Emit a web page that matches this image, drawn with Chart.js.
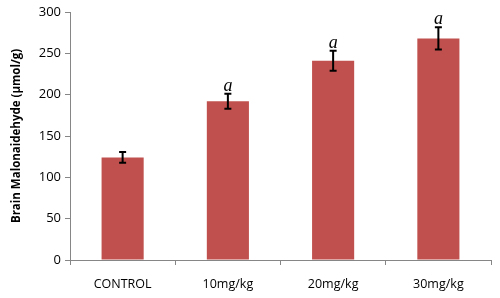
<!DOCTYPE html>
<html>
<head>
<meta charset="utf-8">
<script src="https://cdn.jsdelivr.net/npm/chart.js"></script>
<style>
  html, body { margin: 0; padding: 0; background: #fff; }
  #wrap { width: 500px; height: 298px; }
</style>
</head>
<body>
<div id="wrap"><canvas id="myChart" width="500" height="298"></canvas></div>
<script>
// chart data
const categories = ['CONTROL', '10mg/kg', '20mg/kg', '30mg/kg'];
const mdaValues = [124, 192, 241, 268];
const mdaErrors = [6.5, 9, 12, 13.5];
const sigLabels = ['', 'a', 'a', 'a'];
const yTicks = [0, 50, 100, 150, 200, 250, 300];

// draws the error bars and the significance letters
const errorBarPlugin = {
    id: 'errorBars',
    afterDatasetsDraw(chart) {
        const ctx = chart.ctx;
        const meta = chart.getDatasetMeta(0);
        const yScale = chart.scales.y;
        ctx.save();
        meta.data.forEach((bar, i) => {
            const x = bar.x;
            const top = yScale.getPixelForValue(mdaValues[i] + mdaErrors[i]);
            const bottom = yScale.getPixelForValue(mdaValues[i] - mdaErrors[i]);
            ctx.strokeStyle = '#000';
            ctx.lineWidth = 2;
            ctx.beginPath();
            ctx.moveTo(x, top);
            ctx.lineTo(x, bottom);
            ctx.moveTo(x - 3.5, top);
            ctx.lineTo(x + 3.5, top);
            ctx.moveTo(x - 3.5, bottom);
            ctx.lineTo(x + 3.5, bottom);
            ctx.stroke();
            if (sigLabels[i]) {
                ctx.fillStyle = '#000';
                ctx.font = 'italic 18px "Liberation Serif"';
                ctx.textAlign = 'center';
                ctx.textBaseline = 'alphabetic';
                ctx.fillText(sigLabels[i], x, top - 3);
            }
        });
        ctx.restore();
    }
};

const ctx = document.getElementById('myChart').getContext('2d');
new Chart(ctx, {
    type: 'bar',
    data: {
        labels: categories,
        datasets: [{
            data: mdaValues,
            backgroundColor: '#C0504D',
            borderWidth: 0,
            categoryPercentage: 1,
            barPercentage: 0.4
        }]
    },
    options: {
        responsive: false,
        animation: false,
        layout: { padding: { top: 12, right: 9, left: 10, bottom: 0 } },
        plugins: { legend: { display: false }, tooltip: { enabled: false } },
        scales: {
            x: {
                grid: {
                    offset: true,
                    drawOnChartArea: false,
                    tickLength: 5,
                    color: '#868686'
                },
                border: { color: '#868686', width: 1 },
                ticks: {
                    color: '#000',
                    font: { family: 'Open Sans', size: 12.5 },
                    padding: 12
                },
                afterFit(scale) { scale.height = 38; }
            },
            y: {
                min: 0,
                max: 300,
                afterBuildTicks(scale) {
                    scale.ticks = yTicks.map(v => ({ value: v }));
                },
                grid: {
                    drawOnChartArea: false,
                    tickLength: 5,
                    color: '#868686'
                },
                border: { color: '#868686', width: 1 },
                ticks: {
                    color: '#000',
                    font: { family: 'Open Sans', size: 13 },
                    padding: 4
                },
                title: {
                    display: true,
                    text: 'Brain Malonaidehyde (µmol/g)',
                    color: '#000',
                    font: { family: 'Open Sans', size: 11.5, weight: 'bold' },
                    padding: 0
                },
                afterFit(scale) { scale.width = 60; }
            }
        }
    },
    plugins: [errorBarPlugin]
});
</script>
</body>
</html>
